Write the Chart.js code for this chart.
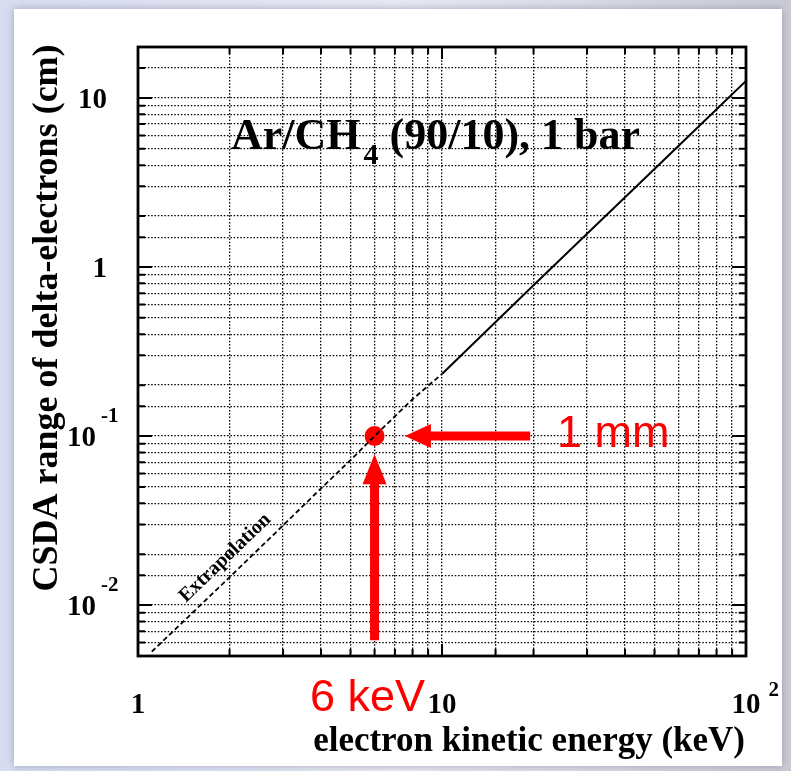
<!DOCTYPE html>
<html>
<head>
<meta charset="utf-8">
<script src="https://cdn.jsdelivr.net/npm/chart.js@4.4.0/dist/chart.umd.min.js"></script>
<style>
html, body { margin: 0; padding: 0; background: #e3e5f1; }
#wrap { width: 791px; height: 771px; }
</style>
</head>
<body>
<div id="wrap"><canvas id="rangeChart" width="791" height="771"></canvas></div>
<script>
// CSDA range vs electron energy (keV, cm)
const extrapEnergy = [1.11, 2, 3, 4, 5, 6, 8, 10];
const extrapRange = [0.0053, 0.0146, 0.0296, 0.049, 0.072, 0.1, 0.165, 0.233];
const tableEnergy = [10, 20, 30, 50, 70, 100];
const tableRange = [0.233, 0.78, 1.57, 3.8, 6.8, 12.6];
// the marked 6 keV / 1 mm point
const markEnergy = [6];
const markRange = [0.1];

// tick labels (base + superscript)
const xTickValues = [1, 10, 100];
const xTickBase = ['1', '10', '10'];
const xTickExp = ['', '', '2'];
const yTickValues = [0.01, 0.1, 1, 10];
const yTickBase = ['10', '10', '1', '10'];
const yTickExp = ['-2', '-1', '', ''];

const SERIF = '"Liberation Serif", "Times New Roman", serif';
const SANS = '"Liberation Sans", Arial, sans-serif';

function isPow10(v) {
    const l = Math.log10(v);
    return Math.abs(l - Math.round(l)) < 1e-6;
}

function toPoints(xs, ys) {
    return xs.map((x, i) => ({ x: x, y: ys[i] }));
}

// filled arrow from tail to tip
function drawArrow(ctx, x1, y1, x2, y2, shaft, headW, headL) {
    const ang = Math.atan2(y2 - y1, x2 - x1);
    const len = Math.hypot(x2 - x1, y2 - y1);
    ctx.save();
    ctx.translate(x1, y1);
    ctx.rotate(ang);
    ctx.beginPath();
    ctx.moveTo(0, -shaft / 2);
    ctx.lineTo(len - headL, -shaft / 2);
    ctx.lineTo(len - headL, -headW / 2);
    ctx.lineTo(len, 0);
    ctx.lineTo(len - headL, headW / 2);
    ctx.lineTo(len - headL, shaft / 2);
    ctx.lineTo(0, shaft / 2);
    ctx.closePath();
    ctx.fill();
    ctx.restore();
}

const pagePanel = {
    id: 'pagePanel',
    beforeDraw(chart) {
        const ctx = chart.ctx;
        ctx.save();
        const g = ctx.createLinearGradient(0, 0, 791, 0);
        g.addColorStop(0, '#d8dcef');
        g.addColorStop(0.5, '#e8eaf3');
        g.addColorStop(1, '#c9cad3');
        ctx.fillStyle = g;
        ctx.fillRect(0, 0, chart.width, chart.height);
        ctx.shadowColor = 'rgba(110,115,150,0.55)';
        ctx.shadowBlur = 8;
        ctx.fillStyle = '#ffffff';
        ctx.fillRect(14, 9, 768, 757);
        ctx.restore();
    }
};

const decorations = {
    id: 'decorations',
    afterDatasetsDraw(chart) {
        const ctx = chart.ctx;
        const a = chart.chartArea;
        const x = chart.scales.x;
        const y = chart.scales.y;
        ctx.save();

        // tick marks on all four sides
        ctx.strokeStyle = '#000';
        ctx.lineWidth = 2;
        ctx.beginPath();
        x.ticks.forEach(t => {
            const px = x.getPixelForValue(t.value);
            const len = isPow10(t.value) ? 12 : 7;
            ctx.moveTo(px, a.bottom); ctx.lineTo(px, a.bottom - len);
            ctx.moveTo(px, a.top); ctx.lineTo(px, a.top + len);
        });
        y.ticks.forEach(t => {
            const py = y.getPixelForValue(t.value);
            const len = isPow10(t.value) ? 14 : 7;
            ctx.moveTo(a.left, py); ctx.lineTo(a.left + len, py);
            ctx.moveTo(a.right, py); ctx.lineTo(a.right - len, py);
        });
        ctx.stroke();

        // frame
        ctx.lineWidth = 2.8;
        ctx.strokeRect(a.left, a.top, a.right - a.left, a.bottom - a.top);

        // tick labels
        ctx.fillStyle = '#000';
        xTickValues.forEach((v, i) => {
            const px = x.getPixelForValue(v);
            ctx.font = 'bold 29px ' + SERIF;
            ctx.textAlign = 'center';
            ctx.fillText(xTickBase[i], px, 713);
            if (xTickExp[i]) {
                const w = ctx.measureText(xTickBase[i]).width;
                ctx.font = 'bold 21px ' + SERIF;
                ctx.textAlign = 'left';
                ctx.fillText(xTickExp[i], px + w / 2 + 8, 696);
            }
        });
        yTickValues.forEach((v, i) => {
            const py = y.getPixelForValue(v);
            ctx.font = 'bold 29px ' + SERIF;
            ctx.textAlign = 'right';
            if (yTickExp[i]) {
                ctx.fillText(yTickBase[i], 96, py + 10);
                ctx.font = 'bold 21px ' + SERIF;
                ctx.textAlign = 'left';
                ctx.fillText(yTickExp[i], 101, py - 14);
            } else {
                ctx.fillText(yTickBase[i], 107, py + 10);
            }
        });

        // axis titles
        ctx.font = 'bold 35px ' + SERIF;
        ctx.textAlign = 'right';
        ctx.fillText('electron kinetic energy (keV)', 745, 751);
        ctx.save();
        ctx.translate(57, 318);
        ctx.rotate(-Math.PI / 2);
        ctx.textAlign = 'center';
        ctx.font = 'bold 36px ' + SERIF;
        ctx.fillText('CSDA range of delta-electrons (cm)', 0, 0);
        ctx.restore();

        // gas label with subscript
        ctx.textAlign = 'left';
        ctx.font = 'bold 44px ' + SERIF;
        let tx = 231;
        ctx.fillText('Ar/CH', tx, 149);
        tx += ctx.measureText('Ar/CH').width;
        ctx.font = 'bold 30px ' + SERIF;
        ctx.fillText('4', tx + 3, 164);
        tx += ctx.measureText('4').width + 3;
        ctx.font = 'bold 44px ' + SERIF;
        ctx.fillText(' (90/10), 1 bar', tx, 149);

        // "Extrapolation" along the dashed part
        ctx.save();
        ctx.translate(186, 603);
        ctx.rotate(-Math.atan2(215, 223));
        ctx.font = 'bold 20px ' + SERIF;
        ctx.fillText('Extrapolation', 0, 0);
        ctx.restore();

        // red annotation arrows and labels
        ctx.fillStyle = '#ff0000';
        const mx = x.getPixelForValue(markEnergy[0]);
        const my = y.getPixelForValue(markRange[0]);
        drawArrow(ctx, mx, y.getPixelForValue(0.0062), mx, y.getPixelForValue(0.078), 9, 24, 30);
        drawArrow(ctx, x.getPixelForValue(19.5), my, x.getPixelForValue(7.55), my, 9, 24, 26);
        ctx.font = '45px ' + SANS;
        ctx.textAlign = 'left';
        ctx.fillText('1 mm', 557, 447);
        ctx.fillText('6 keV', 310, 711);

        ctx.restore();
    }
};

const ctx = document.getElementById('rangeChart').getContext('2d');
const rangeChart = new Chart(ctx, {
    type: 'scatter',
    data: {
        datasets: [{
            label: 'extrapolation',
            data: toPoints(extrapEnergy, extrapRange),
            showLine: true,
            borderColor: '#000',
            borderWidth: 1.8,
            borderDash: [5, 3],
            pointRadius: 0
        }, {
            label: 'range',
            data: toPoints(tableEnergy, tableRange),
            showLine: true,
            borderColor: '#000',
            borderWidth: 2,
            pointRadius: 0
        }, {
            label: '6 keV',
            data: toPoints(markEnergy, markRange),
            showLine: false,
            pointRadius: 10,
            pointBackgroundColor: '#ff0000',
            pointBorderWidth: 0
        }]
    },
    options: {
        responsive: false,
        animation: false,
        devicePixelRatio: 1,
        layout: { padding: { left: 138, top: 47, right: 45, bottom: 115 } },
        plugins: { legend: { display: false }, tooltip: { enabled: false } },
        scales: {
            x: {
                type: 'logarithmic',
                min: 1,
                max: 100,
                ticks: { display: false },
                grid: { color: '#000', lineWidth: 1.3, drawTicks: false },
                border: { display: false, dash: [1.5, 1.8] },
                afterFit: s => { s.height = 0; }
            },
            y: {
                type: 'logarithmic',
                min: 0.005,
                max: 20,
                ticks: { display: false },
                grid: { color: '#000', lineWidth: 1.3, drawTicks: false },
                border: { display: false, dash: [1.5, 1.8] },
                afterFit: s => { s.width = 0; }
            }
        }
    },
    plugins: [pagePanel, decorations]
});
</script>
</body>
</html>
